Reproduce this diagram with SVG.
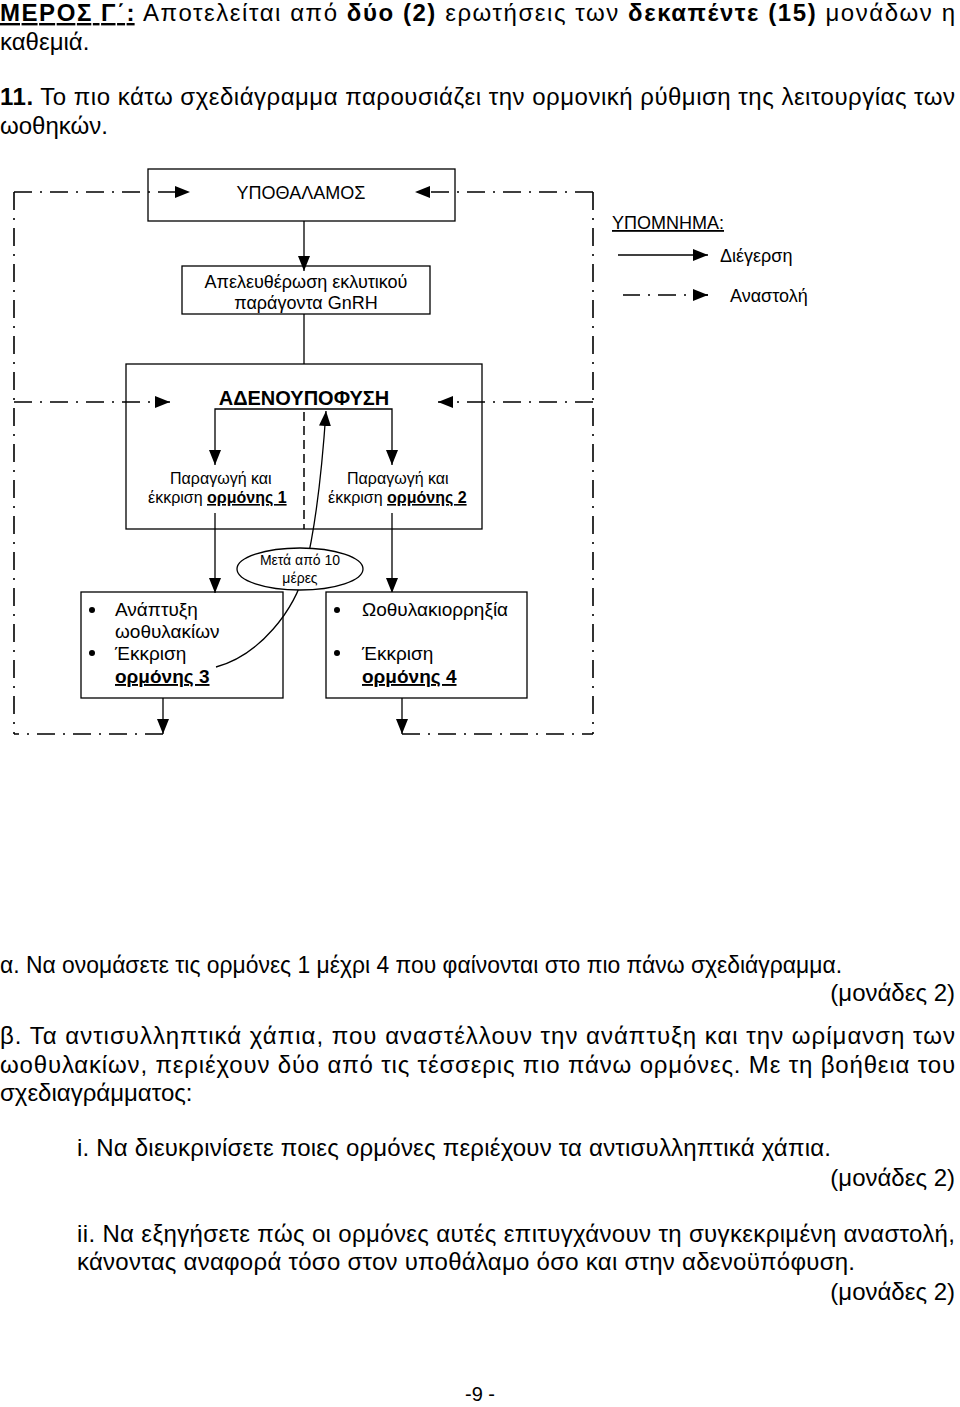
<svg xmlns="http://www.w3.org/2000/svg" width="960" height="1407" viewBox="0 0 960 1407">
<style>
text{font-family:"Liberation Sans",Arial,sans-serif;fill:#000}
.p{font-size:24px}
.b{font-weight:bold}
.u{text-decoration:underline}
.box{fill:#fff;stroke:#000;stroke-width:1.3}
.ln{fill:none;stroke:#000;stroke-width:1.3}
.dd{fill:none;stroke:#000;stroke-width:1.6;stroke-dasharray:18 8 2 8}
.dash{fill:none;stroke:#000;stroke-width:1.5;stroke-dasharray:9 5}
.t18{font-size:18px}
.t19{font-size:19px}
.t16{font-size:16px}
.t14{font-size:14px}
</style>
<defs>
<marker id="ah" markerUnits="userSpaceOnUse" markerWidth="16" markerHeight="12" viewBox="0 0 16 12" refX="15" refY="6" orient="auto">
<path d="M0,0 L15,6 L0,12 Z" fill="#000"/>
</marker>
</defs>
<rect width="960" height="1407" fill="#fff"/>

<g id="header">
<text class="p" x="0" y="21" textLength="955" lengthAdjust="spacing"><tspan class="b u">ΜΕΡΟΣ Γ΄:</tspan> Αποτελείται από <tspan class="b">δύο (2)</tspan> ερωτήσεις των <tspan class="b">δεκαπέντε (15)</tspan> μονάδων η</text>
<text class="p" x="0" y="50">καθεμιά.</text>
<text class="p" x="0" y="105" textLength="955" lengthAdjust="spacing"><tspan class="b">11.</tspan> Το πιο κάτω σχεδιάγραμμα παρουσιάζει την ορμονική ρύθμιση της λειτουργίας των</text>
<text class="p" x="0" y="134">ωοθηκών.</text>
</g>

<g id="connectors">
<path class="dd" d="M14,192 L14,734"/>
<path class="dd" d="M593,192 L593,734"/>
<path class="dd" d="M14,192 L190,192" marker-end="url(#ah)"/>
<path class="dd" d="M593,192 L415,192" marker-end="url(#ah)"/>
<path class="dd" d="M14,402 L170,402" marker-end="url(#ah)"/>
<path class="dd" d="M593,402 L438,402" marker-end="url(#ah)"/>
<path class="dd" d="M163,734 L14,734"/>
<path class="dd" d="M402,734 L593,734"/>
</g>

<g id="hypothalamus">
<rect class="box" x="148" y="169" width="307" height="52" fill-opacity="0"/>
<text class="t18" x="301" y="199" text-anchor="middle">ΥΠΟΘΑΛΑΜΟΣ</text>
</g>

<g id="gnrh">
<rect class="box" x="182" y="266" width="248" height="48"/>
<text class="t18" x="306" y="288" text-anchor="middle">Απελευθέρωση εκλυτικού</text>
<text class="t18" x="306" y="309" text-anchor="middle">παράγοντα GnRH</text>
</g>

<g id="adenohypophysis">
<rect class="box" x="126" y="364" width="356" height="165" fill-opacity="0"/>
<text class="b" font-size="20" x="304" y="405" text-anchor="middle">ΑΔΕΝΟΥΠΟΦΥΣΗ</text>
<text class="t16" x="170" y="484">Παραγωγή και</text>
<text class="t16" x="148" y="503">έκκριση <tspan class="b u">ορμόνης 1</tspan></text>
<text class="t16" x="347" y="484">Παραγωγή και</text>
<text class="t16" x="328" y="503">έκκριση <tspan class="b u">ορμόνης 2</tspan></text>
</g>

<g id="internal-connectors">
<path class="ln" d="M304,221 L304,271" marker-end="url(#ah)"/>
<path class="ln" d="M304,314 L304,364"/>
<path class="ln" d="M304,409 L215,409 L215,465" marker-end="url(#ah)"/>
<path class="ln" d="M304,409 L392,409 L392,465" marker-end="url(#ah)"/>
<path class="dash" d="M304,412 L304,529"/>
<path class="ln" d="M215,513 L215,593" marker-end="url(#ah)"/>
<path class="ln" d="M392,513 L392,593" marker-end="url(#ah)"/>
<path class="ln" d="M163,698 L163,734" marker-end="url(#ah)"/>
<path class="ln" d="M402,698 L402,734" marker-end="url(#ah)"/>
<path class="ln" d="M216,667 C260,655 295,610 305,570 C315,530 322,470 326,411" marker-end="url(#ah)"/>
</g>

<g id="after10days">
<ellipse class="box" cx="300" cy="569" rx="63" ry="21"/>
<text class="t14" x="300" y="565" text-anchor="middle">Μετά από 10</text>
<text class="t14" x="300" y="583" text-anchor="middle">μέρες</text>
</g>

<g id="box3">
<rect class="box" x="81" y="592" width="202" height="106" fill-opacity="0"/>
<circle cx="92" cy="610" r="3"/>
<circle cx="92" cy="653" r="3"/>
<text class="t19" x="115" y="616">Ανάπτυξη</text>
<text class="t19" x="115" y="638">ωοθυλακίων</text>
<text class="t19" x="115" y="660">Έκκριση</text>
<text class="t19 b u" x="115" y="683">ορμόνης 3</text>
</g>

<g id="box4">
<rect class="box" x="326" y="592" width="201" height="106"/>
<circle cx="337" cy="610" r="3"/>
<circle cx="337" cy="653" r="3"/>
<text class="t19" x="362" y="616">Ωοθυλακιορρηξία</text>
<text class="t19" x="362" y="660">Έκκριση</text>
<text class="t19 b u" x="362" y="683">ορμόνης 4</text>
</g>

<g id="legend">
<text class="t18 u" x="612" y="229">ΥΠΟΜΝΗΜΑ:</text>
<path class="ln" d="M618,255 L708,255" marker-end="url(#ah)"/>
<text class="t18" x="720" y="262">Διέγερση</text>
<path class="ln" d="M623,295 L640,295 M648,295 L650,295 M658,295 L676,295 M684,295 L686,295 M694,295 L708,295" stroke-width="1.6"/>
<path class="ln" d="M694,295 L708,295" stroke="none" marker-end="url(#ah)"/>
<text class="t18" x="730" y="302">Αναστολή</text>
</g>

<g id="questions">
<text class="p" x="0" y="973" textLength="842" lengthAdjust="spacingAndGlyphs">α. Να ονομάσετε τις ορμόνες 1 μέχρι 4 που φαίνονται στο πιο πάνω σχεδιάγραμμα.</text>
<text class="p" x="955" y="1001" text-anchor="end">(μονάδες 2)</text>
<text class="p" x="0" y="1044" textLength="955" lengthAdjust="spacing">β. Τα αντισυλληπτικά χάπια, που αναστέλλουν την ανάπτυξη και την ωρίμανση των</text>
<text class="p" x="0" y="1073" textLength="955" lengthAdjust="spacing">ωοθυλακίων, περιέχουν δύο από τις τέσσερις πιο πάνω ορμόνες. Με τη βοήθεια του</text>
<text class="p" x="0" y="1101">σχεδιαγράμματος:</text>
<text class="p" x="77" y="1156" textLength="754" lengthAdjust="spacing">i. Να διευκρινίσετε ποιες ορμόνες περιέχουν τα αντισυλληπτικά χάπια.</text>
<text class="p" x="955" y="1186" text-anchor="end">(μονάδες 2)</text>
<text class="p" x="77" y="1242" textLength="878" lengthAdjust="spacing">ii. Να εξηγήσετε πώς οι ορμόνες αυτές επιτυγχάνουν τη συγκεκριμένη αναστολή,</text>
<text class="p" x="77" y="1270" textLength="778" lengthAdjust="spacing">κάνοντας αναφορά τόσο στον υποθάλαμο όσο και στην αδενοϋπόφυση.</text>
<text class="p" x="955" y="1300" text-anchor="end">(μονάδες 2)</text>
<text x="465" y="1401" font-size="20">-9 -</text>
</g>
</svg>
